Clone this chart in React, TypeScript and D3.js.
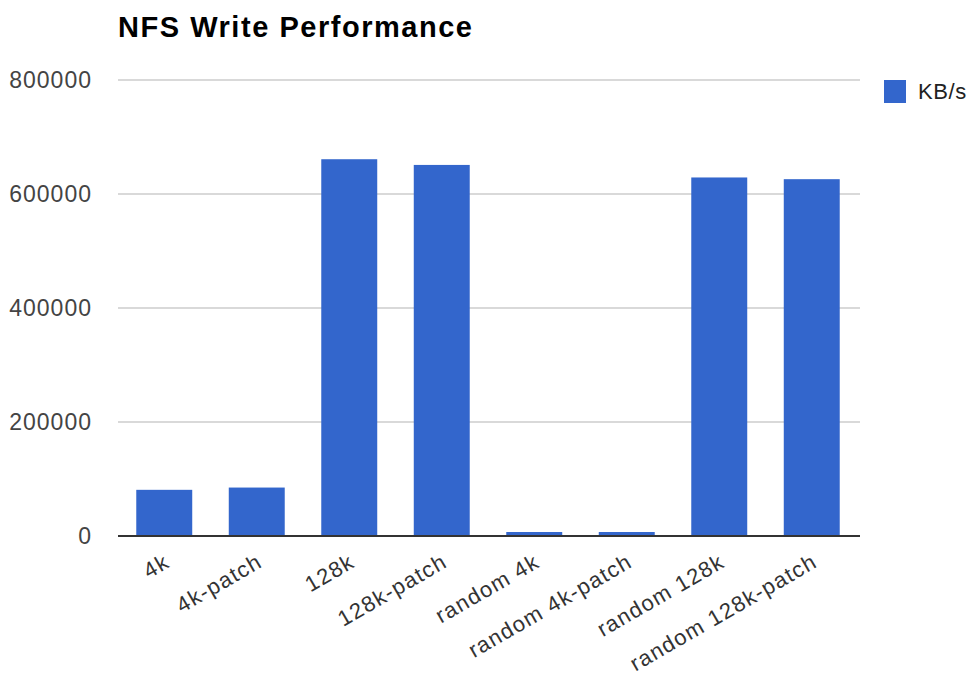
import { useEffect, useRef } from 'react'
import { scaleBand, scaleLinear, select, axisLeft } from 'd3'

const categories = ['4k', '4k-patch', '128k', '128k-patch', 'random 4k', 'random 4k-patch', 'random 128k', 'random 128k-patch']
const kbps = [81000, 85000, 661000, 651000, 7000, 7000, 629000, 626000]
const yTicks = [0, 200000, 400000, 600000, 800000]
const seriesName = 'KB/s'
const title = 'NFS Write Performance'

const W = 972
const H = 675
const left = 118
const right = 858
const top = 80
const bottom = 536
const font = 'Arial, "Liberation Sans", sans-serif'

const App = () => {
  const axisRef = useRef<SVGGElement>(null)

  const x = scaleBand().domain(categories).range([left, right]).paddingInner(0.395).paddingOuter(0.1975)
  const y = scaleLinear().domain([0, 800000]).range([bottom, top])

  useEffect(() => {
    const g = select(axisRef.current)
    g.call(axisLeft(y).tickValues(yTicks).tickSize(0).tickPadding(26).tickFormat(d => String(d)) as any)
    g.select('.domain').remove()
    g.selectAll('text').attr('fill', '#444').attr('font-size', 23).attr('font-family', font)
      .attr('letter-spacing', 1)
  })

  const bars = categories.map((c, i) => (
    <rect key={c} x={x(c)} y={y(kbps[i])} width={x.bandwidth()} height={bottom - y(kbps[i])} fill="#3366cc" />
  ))

  const grid = yTicks.filter(t => t !== 0).map(t => (
    <line key={t} x1={left} x2={860} y1={y(t)} y2={y(t)} stroke="#cccccc" strokeWidth={1.5} />
  ))

  const labels = categories.map(c => {
    const cx = (x(c) as number) + x.bandwidth() / 2 + 7
    return (
      <text key={c} transform={`translate(${cx},${bottom + 30}) rotate(-30)`} textAnchor="end"
        fontSize={22} letterSpacing={1.3} fontFamily={font} fill="#333">{c}</text>
    )
  })

  return (
    <svg width={W} height={H} style={{ position: 'absolute', left: 0, top: 0, background: '#fff' }}>
      <text x={118} y={37} fontSize={29} fontWeight="bold" fontFamily={font} fill="#000"
        textLength={354} lengthAdjust="spacing">{title}</text>
      {grid}
      {bars}
      <line x1={left} x2={860} y1={bottom} y2={bottom} stroke="#333" strokeWidth={2} />
      <g ref={axisRef} transform={`translate(${left},0)`} />
      {labels}
      <rect x={884} y={80} width={22} height={23} fill="#3366cc" />
      <text x={918} y={99} fontSize={22} letterSpacing={0.6} fontFamily={font} fill="#222">{seriesName}</text>
    </svg>
  )
}

export default App
